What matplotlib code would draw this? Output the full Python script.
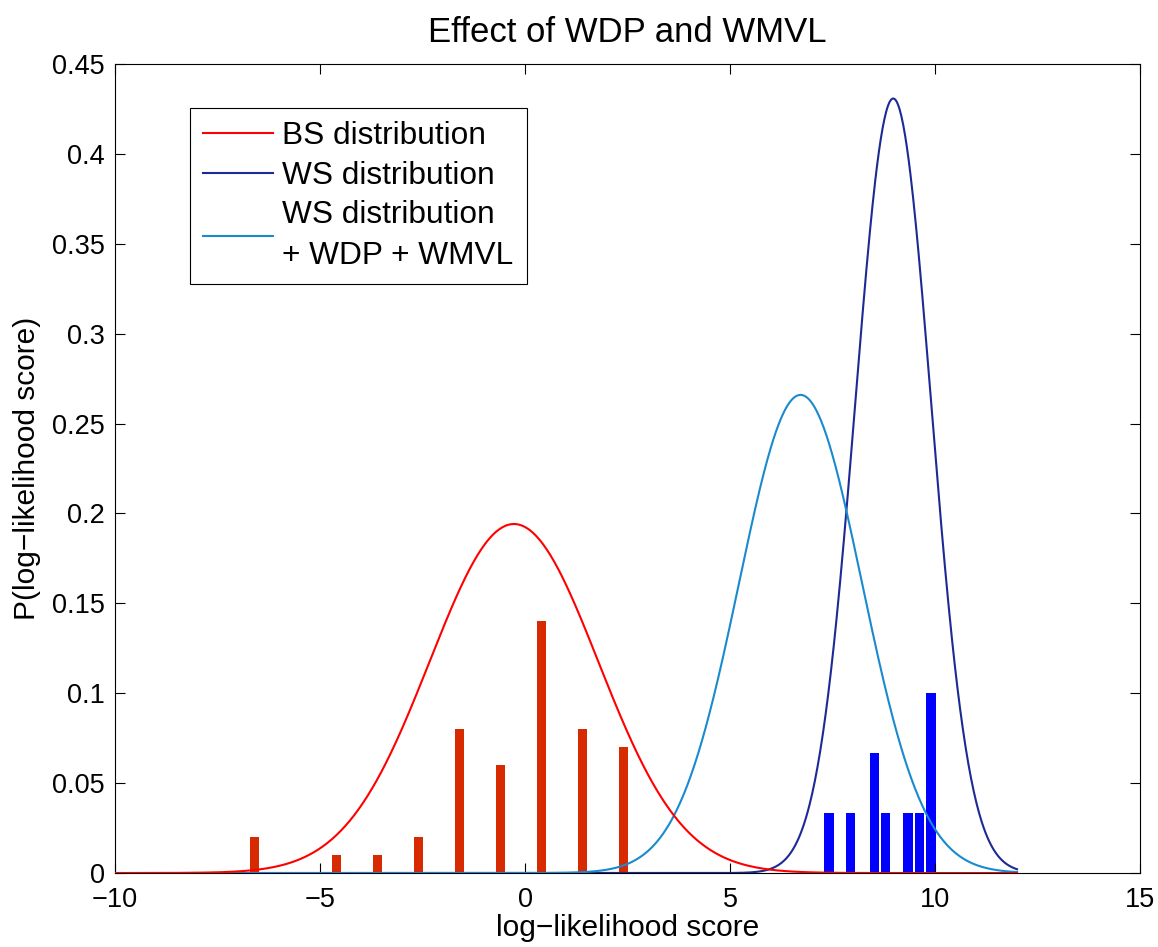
import matplotlib
matplotlib.use("Agg")
import matplotlib.pyplot as plt
import numpy as np

plt.rcParams['font.family'] = ['Liberation Sans', 'DejaVu Sans']

# fitted normal distributions (mean, std)
bs_mean, bs_std = -0.27, 2.055
ws_mean, ws_std = 8.98, 0.926
ws_new_mean, ws_new_std = 6.72, 1.50
score_min, score_max = -10, 12

# normalised histograms of the observed scores
bs_centers = [-6.6, -4.6, -3.6, -2.6, -1.6, -0.6, 0.4, 1.4, 2.4]
bs_freq = [0.02, 0.01, 0.01, 0.02, 0.08, 0.06, 0.14, 0.08, 0.07]
ws_centers = [7.41, 7.94, 8.52, 8.79, 9.34, 9.62, 9.90]
ws_freq = [1 / 30, 1 / 30, 2 / 30, 1 / 30, 1 / 30, 1 / 30, 3 / 30]


def normpdf(x, mu, sigma):
    return np.exp(-0.5 * ((x - mu) / sigma) ** 2) / (sigma * np.sqrt(2 * np.pi))


x = np.linspace(score_min, score_max, 1000)

fig = plt.figure(figsize=(11.58, 9.47), dpi=100)
ax = fig.add_axes([0.0993, 0.0781, 0.8852, 0.8543])

ax.bar(bs_centers, bs_freq, width=0.23, color='#d82a00', zorder=1)
ax.bar(ws_centers, ws_freq, width=0.23, color='#0000ff', zorder=1)

ax.plot(x, normpdf(x, bs_mean, bs_std), color='#ff0000', lw=1.5, label='BS distribution', zorder=3)
ax.plot(x, normpdf(x, ws_mean, ws_std), color='#1c2a96', lw=1.5, label='WS distribution', zorder=2)
ax.plot(x, normpdf(x, ws_new_mean, ws_new_std), color='#1a8ad0', lw=1.5,
        label='WS distribution\n+ WDP + WMVL', zorder=2)

ax.set_xlim(-10, 15)
ax.set_ylim(0, 0.45)
ax.set_xticks(range(-10, 16, 5))
ax.set_xticklabels(['\u221210', '\u22125', '0', '5', '10', '15'])
ax.set_yticks(np.arange(0, 0.451, 0.05))
ax.set_yticklabels(['0', '0.05', '0.1', '0.15', '0.2', '0.25', '0.3', '0.35', '0.4', '0.45'])
ax.tick_params(direction='in', top=True, right=True, length=7, width=0.8, labelsize=19.5)
ax.tick_params(axis='x', pad=10)
ax.tick_params(axis='y', pad=7.5)
for s in ax.spines.values():
    s.set_linewidth(0.8)

ax.set_title('Effect of WDP and WMVL', fontsize=25, pad=16)
ax.set_xlabel('log\u2212likelihood score', fontsize=21.5, labelpad=1)
ax.set_ylabel('P(log\u2212likelihood score)', fontsize=21.5, labelpad=8)

leg = ax.legend(loc='upper left', bbox_to_anchor=(0.0732, 0.9456), fontsize=22.8,
                fancybox=False, edgecolor='black', framealpha=1, handlelength=2.2,
                borderpad=0.42, labelspacing=0.3, handletextpad=0.3, borderaxespad=0)
leg.get_frame().set_linewidth(0.8)
leg.get_texts()[2].set_linespacing(1.45)

fig.savefig('out.png', dpi=100)
